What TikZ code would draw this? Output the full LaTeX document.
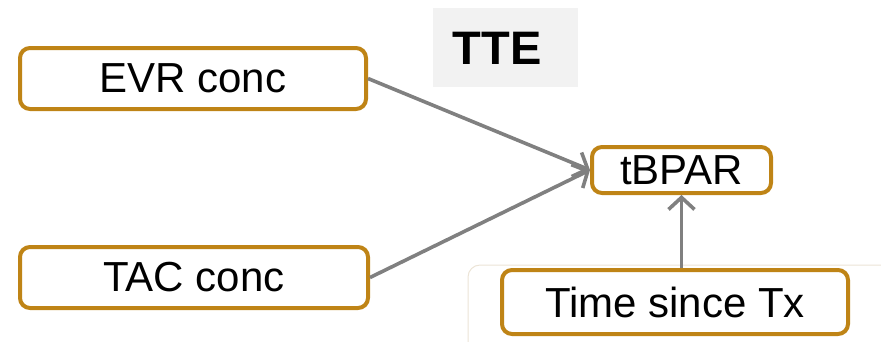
\documentclass[tikz,border=0pt]{standalone}
\usepackage{fontspec}
\setmainfont{Liberation Sans}
\usetikzlibrary{arrows.meta}
\definecolor{gold}{RGB}{191,132,22}
\definecolor{arrowgrey}{RGB}{128,128,128}
\definecolor{ttebg}{RGB}{242,242,242}
\definecolor{faint}{RGB}{236,228,214}
\tikzset{
  box/.style={draw=gold, line width=4pt, rounded corners=10pt, fill=white,
    inner sep=0pt, font=\fontsize{42}{50}\selectfont},
  conn/.style={draw=arrowgrey, line width=3.6pt,
    -{Straight Barb[length=12pt,width=26pt,line width=3.6pt]}}
}
\begin{document}
\begin{tikzpicture}[x=1pt,y=-1pt]
\useasboundingbox (0,0) rectangle (881,341);
\begin{scope}
\clip (0,0) rectangle (881,341);
\draw[faint, line width=1pt, rounded corners=12pt, fill=white] (468,265) rectangle (900,360);
\end{scope}
\fill[ttebg] (433,8) rectangle (578,87);
\node[inner sep=0pt, font=\fontsize{47}{50}\selectfont\bfseries] (tte) at (497,48) {TTE};
\node[box, minimum width=346pt, minimum height=61pt] (evr) at (193,78.5) {EVR conc};
\node[box, minimum width=348pt, minimum height=61pt] (tac) at (194,277.5) {TAC conc};
\node[box, minimum width=179pt, minimum height=46pt] (tbpar) at (681.5,170) {tBPAR};
\node[box, minimum width=346pt, minimum height=64pt] (time) at (675,302) {Time since Tx};
\draw[conn] (evr.east) -- (tbpar.west);
\draw[conn] (tac.east) -- (tbpar.west);
\draw[conn] (tbpar.south |- time.north) -- (tbpar.south);
\end{tikzpicture}
\end{document}
